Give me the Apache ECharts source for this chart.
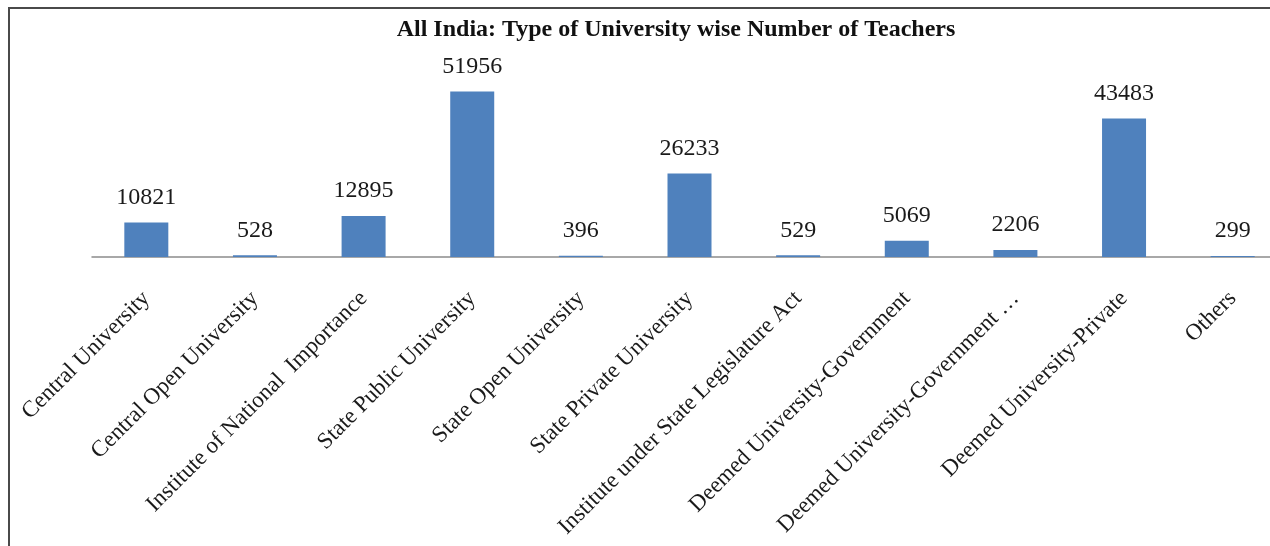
<!DOCTYPE html>
<html>
<head>
<meta charset="utf-8">
<script src="https://cdn.jsdelivr.net/npm/echarts@6/dist/echarts.min.js"></script>
<style>
  html, body { margin: 0; padding: 0; background: #fff; }
  #chart { width: 1270px; height: 546px; }
</style>
</head>
<body>
<div id="chart"></div>
<script>
// data
var categories = [
    'Central University',
    'Central Open University',
    'Institute of National  Importance',
    'State Public University',
    'State Open University',
    'State Private University',
    'Institute under State Legislature Act',
    'Deemed University-Government',
    'Deemed University-Government …',
    'Deemed University-Private',
    'Others'
];
var teachers = [10821, 528, 12895, 51956, 396, 26233, 529, 5069, 2206, 43483, 299];

var serif = '"Liberation Serif", "Times New Roman", serif';

var myChart = echarts.init(document.getElementById('chart'));

var option = {
    backgroundColor: '#fff',
    animation: false,
    title: {
        text: 'All India: Type of University wise Number of Teachers',
        left: 671,
        top: 13,
        textAlign: 'center',
        textStyle: {
            fontFamily: serif,
            fontWeight: 'bold',
            fontSize: 24,
            color: '#111'
        }
    },
    // frame of the original picture (top and left edges only)
    graphic: [{
        type: 'polyline',
        shape: { points: [[9, 546], [9, 8], [1270, 8]] },
        style: { stroke: '#4a4a4a', lineWidth: 2, fill: null }
    }],
    grid: {
        left: 92,
        right: -17,
        top: 66,
        bottom: 289,
        outerBoundsMode: 'none'
    },
    xAxis: {
        type: 'category',
        data: categories,
        axisLine: { lineStyle: { color: '#8c8c8c', width: 1.5 } },
        axisTick: { show: false },
        axisLabel: {
            interval: 0,
            rotate: 45,
            margin: 38,
            fontFamily: serif,
            fontSize: 23,
            color: '#1a1a1a'
        }
    },
    yAxis: {
        type: 'value',
        min: 0,
        max: 60000,
        show: false
    },
    series: [{
        type: 'bar',
        data: teachers,
        barWidth: 44,
        itemStyle: { color: '#4f81bd' },
        label: {
            show: true,
            position: 'top',
            distance: 13,
            fontFamily: serif,
            fontSize: 24,
            color: '#1a1a1a'
        }
    }]
};

myChart.setOption(option);
</script>
</body>
</html>
